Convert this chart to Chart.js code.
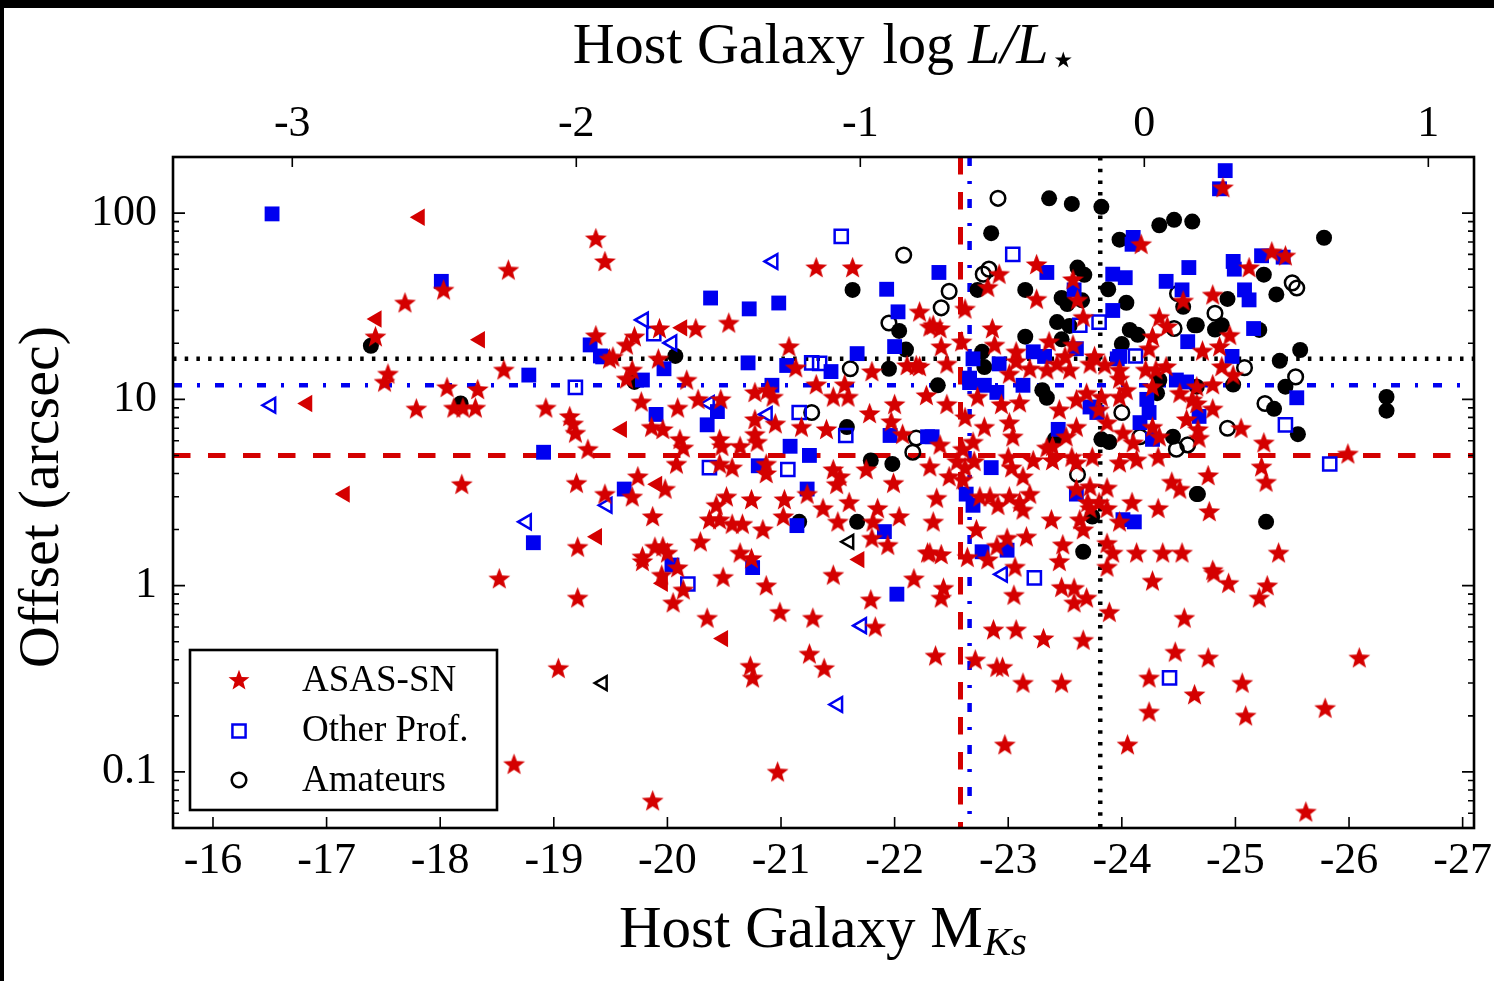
<!DOCTYPE html>
<html><head><meta charset="utf-8">
<script src="https://cdn.jsdelivr.net/npm/chart.js@4.4.1/dist/chart.umd.min.js"></script>
<style>html,body{margin:0;padding:0;background:#fff;overflow:hidden}
#wrap{position:absolute;left:0;top:0;width:1494px;height:981px}</style>
</head><body><div id="wrap"><canvas id="c"></canvas></div>
<script>
// ---------- data: [host M_Ks, offset in arcsec] ----------
const asasStars = [
[-19.37,73],[-19.45,55],[-18.60,49.5],[-18.03,38.7],[-17.69,33],[-17.43,21.7],[-19.37,22],[-19.49,16.5],[-17.54,13.7],[-17.51,12.4],[-18.56,14.4],[-18.06,11.6],[-18.33,11.3],[-17.79,8.9],[-18.12,9.0],[-18.20,9.0],[-18.31,9.0],[-18.93,9.0],[-19.14,8.1],[-19.17,7.4],[-19.19,6.6],[-19.30,5.4],[-18.19,3.5],[-19.20,3.55],[-19.45,3.1],[-19.21,1.61],[-18.52,1.09],[-19.21,0.86],[-19.04,0.36],[-18.65,0.11],
[-21.31,51],[-21.63,51],[-20.54,25.7],[-19.93,24],[-20.25,24],[-19.71,21.7],[-19.64,19.6],[-19.52,16.9],[-19.92,16.5],[-19.69,14.4],[-19.64,12.9],[-21.07,19.2],[-21.13,14.8],[-21.80,14.1],[-22.11,15.2],[-22.19,15.2],[-20.17,12.7],[-19.77,9.7],[-20.09,9.0],[-20.27,10],[-20.47,10],[-20.77,10.9],[-20.88,11.2],[-20.93,10.3],[-21.31,12],[-21.56,12],[-21.46,10.3],[-21.59,10.3],[-19.86,7.1],[-19.96,6.9],[-20.11,6.1],[-20.14,5.5],[-20.77,7.8],[-20.77,6.5],[-20.95,7.4],[-21.18,7.1],[-21.40,6.9],[-21.78,8.4],[-22.0,9.4],[-21.97,7.6],[-22.07,6.5],[-20.46,6.1],[-20.48,5.6],[-20.64,5.6],[-20.79,5.9],[-20.08,4.5],[-20.46,4.5],[-20.57,4.3],[-20.87,4.5],[-20.87,4.0],[-21.46,4.2],[-21.52,3.85],[-21.49,3.5],[-21.75,4.2],[-21.99,3.55],[-19.74,3.85],[-19.98,3.3],
[-19.69,3.0],[-19.87,2.35],[-19.78,1.43],[-19.78,1.35],[-19.89,1.61],[-19.96,1.62],[-20.0,1.5],[-19.95,1.14],[-20.09,1.25],[-20.14,0.95],[-20.05,0.81],[-20.29,1.72],[-20.35,0.67],[-20.37,2.26],[-20.46,2.26],[-20.57,2.14],[-20.66,2.14],[-20.43,2.7],[-20.52,3.0],[-20.74,2.9],[-20.84,2.0],[-20.64,1.5],[-20.74,1.4],[-20.49,1.11],[-20.87,1.0],[-20.99,0.72],[-21.03,2.9],[-21.02,2.35],[-21.23,3.1],[-21.37,2.6],[-21.50,2.2],[-21.60,2.8],[-21.85,2.6],[-21.81,2.2],[-21.80,1.8],[-21.94,1.65],[-22.04,2.35],[-21.46,1.14],[-21.79,0.84],[-22.17,1.09],[-21.83,0.6],[-21.28,0.67],[-21.25,0.43],[-21.38,0.36],[-20.73,0.37],[-20.75,0.32],[-20.97,0.1],[-19.87,0.07],[-22.29,1.5],
[-24.17,68],[-23.25,53],[-22.92,47],[-22.82,40],[-22.22,29.5],[-22.34,25],[-22.40,24],[-22.62,30.6],[-22.86,24],[-23.25,34.5],[-23.57,44],[-23.61,34.2],[-23.66,27.6],[-24.54,33.8],[-24.33,27.6],[-24.40,24.6],[-24.27,21.7],[-24.24,18.7],[-23.36,20.4],[-23.57,19.6],[-23.50,17.0],[-23.43,15.5],[-23.07,18],[-23.07,16],[-23.19,14.6],[-22.88,19.6],[-22.59,20.4],[-22.31,24.5],[-22.41,19.2],[-22.46,15.5],[-22.22,15],[-23.01,13.7],[-23.34,14.4],[-23.54,14.4],[-23.72,15.5],[-23.76,17],[-23.85,15.3],[-23.98,14.4],[-24.21,14.4],[-24.30,14.4],[-24.39,15],[-23.98,12.9],
[-22.73,10.3],[-22.94,9.4],[-23.10,9.6],[-22.46,9.4],[-22.28,10.5],[-22.62,8.0],[-22.79,7.1],[-23.01,7.5],[-23.04,6.3],[-22.40,5.7],[-22.60,5.4],[-22.69,5.9],[-22.55,4.65],[-22.62,4.3],[-22.70,4.65],[-23.0,4.9],[-23.03,4.3],[-23.13,3.85],[-23.22,4.7],[-23.39,4.7],[-23.34,5.5],[-22.31,4.35],[-22.48,3.85],[-22.60,3.7],[-22.37,2.95],[-22.75,3.0],[-22.84,3.0],[-22.91,2.7],[-23.01,3.0],[-23.10,2.8],[-23.19,3.1],[-23.13,2.55],[-22.34,2.2],[-22.72,2.0],[-22.31,1.5],[-22.41,1.47],[-22.64,1.42],[-22.82,1.38],[-22.99,1.80],[-22.90,1.63],[-23.16,1.83],[-23.06,1.26],[-23.38,2.26],[-23.48,1.66],[-23.45,1.35],[-23.60,3.3],[-23.72,3.4],[-23.87,3.35],[-23.70,2.8],[-23.80,2.8],[-23.87,2.6],[-23.63,2.26],[-23.66,2.0],[-23.72,2.6],[-23.87,1.69],[-23.92,1.5],[-23.87,1.26],[-23.98,2.2],[-24.09,2.8],[-24.32,2.6],[-24.44,3.6],[-24.51,3.3],[-24.13,1.5],[-24.36,1.5],[-24.53,1.5],
[-23.45,8.8],[-23.60,9.95],[-23.69,10.8],[-23.82,10.3],[-23.98,10.3],[-24.04,11.2],[-24.27,11.7],[-24.51,10.8],[-24.62,9.95],[-24.57,7.8],[-24.27,7.1],[-24.33,6.3],[-24.10,5.85],[-24.01,6.6],[-23.60,7.1],[-23.51,6.3],[-23.39,5.6],[-23.56,4.9],[-23.60,4.57],[-23.74,4.9],[-23.98,4.57],[-24.13,4.74],[-24.32,4.9],[-23.87,7.5],[-23.80,8.8],
[-24.89,137],[-25.32,62],[-25.44,59],[-25.12,51],[-24.80,36.4],[-24.95,22.1],[-24.71,18.2],[-24.86,19.2],[-24.88,15],[-24.98,13.5],[-24.80,12],[-24.66,11.7],[-25.05,7.0],[-24.67,6.9],[-24.68,6.2],[-24.80,8.9],[-24.66,9.5],[-25.25,5.85],[-25.23,4.35],[-25.27,3.6],[-24.76,3.9],[-24.77,2.5],[-25.38,1.5],[-24.80,1.21],[-25.99,5.1],
[-22.43,0.97],[-22.41,0.86],[-23.05,0.89],[-23.47,0.98],[-23.58,0.97],[-23.58,0.81],[-23.69,0.86],[-23.89,0.72],[-24.27,1.06],[-24.81,1.17],[-24.94,1.03],[-25.28,1.0],[-25.21,0.86],[-24.55,0.67],[-22.87,0.58],[-23.07,0.58],[-23.31,0.52],[-23.66,0.51],[-22.36,0.42],[-22.71,0.40],[-22.90,0.365],[-22.95,0.365],[-23.13,0.30],[-23.47,0.30],[-24.47,0.44],[-24.76,0.41],[-24.24,0.32],[-24.64,0.26],[-25.06,0.30],[-24.24,0.21],[-25.09,0.20],[-25.79,0.22],[-26.09,0.41],[-22.97,0.14],[-24.05,0.14],[-25.62,0.061]
];
const asasLimits = [[-17.82,95],[-17.44,27],[-18.35,20.9],[-16.83,9.5],[-17.16,3.1],[-19.38,1.83],[-20.13,24.2],[-19.60,6.9],[-19.91,3.5],[-19.96,1.03],[-20.49,0.52],[-21.69,1.38]];
const profFilled = [
[-16.52,99],[-18.01,43],[-19.32,19.6],[-19.41,17.1],[-18.78,13.5],[-18.91,5.2],[-18.82,1.70],[-21.93,39],[-20.38,35],[-20.72,30.6],[-20.98,32.9],[-22.03,29.5],[-19.97,14.6],[-19.43,16.9],[-19.78,12.7],[-20.71,15.7],[-21.05,15.2],[-21.44,14.1],[-21.67,17.6],[-22.0,19.2],[-20.92,11.9],[-20.44,8.6],[-20.35,7.3],[-19.90,8.3],[-21.96,6.4],[-22.29,6.3],[-21.08,5.6],[-21.25,5.0],[-20.80,4.4],[-21.23,3.3],[-19.62,3.3],[-20.04,1.29],[-20.75,1.25],[-21.14,2.1],[-21.91,1.95],[-22.02,0.9],
[-24.10,74],[-24.09,68],[-23.34,48],[-22.39,48],[-23.58,38.7],[-23.92,47],[-24.03,45],[-23.92,30],[-24.39,43],[-24.59,51],[-24.53,38.7],[-24.58,20.4],[-23.98,17],[-23.60,18.7],[-23.22,18.0],[-23.32,17.0],[-22.69,16.5],[-22.92,15.5],[-24.48,12.7],[-24.57,12.4],[-22.66,13],
[-22.66,12.3],[-22.79,11.9],[-22.90,10.9],[-23.13,11.9],[-22.33,6.3],[-22.85,4.3],[-22.63,3.1],[-22.69,2.7],[-22.77,1.52],[-22.99,1.55],[-23.60,3.1],[-24.01,2.26],[-24.11,2.2],[-23.72,9.1],[-23.78,8.5],[-24.22,10],[-24.24,8.5],[-24.16,7.5],[-24.27,6.1],[-23.44,6.9],[-23.96,16.5],
[-24.91,169],[-24.86,135],[-25.23,59],[-25.42,58],[-24.98,55],[-24.99,50],[-25.08,38.7],[-25.12,34.2],[-25.16,24],[-24.97,17],[-25.54,10.2],[-24.68,8.1]
];
const profOpen = [[-19.19,11.6],[-21.53,75],[-19.88,22.5],[-21.27,15.7],[-21.34,15.6],[-21.16,8.5],[-21.57,6.4],[-20.37,4.3],[-21.06,4.2],[-20.18,1.02],[-23.04,60],[-23.63,25],[-23.80,26],[-24.12,17.1],[-23.23,1.1],[-24.42,0.32],[-25.44,7.3],[-25.83,4.5]];
const profLimits = [[-16.51,9.3],[-18.76,2.2],[-20.93,55],[-19.79,26.7],[-20.04,20.1],[-20.37,9.5],[-20.88,8.3],[-19.47,2.7],[-21.71,0.61],[-21.50,0.23],[-22.95,1.15]];
const amFilled = [
[-17.39,19.4],[-18.18,9.5],[-21.63,38.7],[-22.04,23.3],[-20.07,17.1],[-21.95,14.6],[-22.10,18.5],[-21.58,7.1],[-21.79,4.7],[-21.98,4.5],[-21.16,2.2],[-21.67,2.2],[-19.71,12.4],
[-23.36,120],[-23.56,112],[-23.82,108],[-22.85,78],[-24.33,86],[-24.46,92],[-24.62,90],[-23.98,72],[-22.73,38.7],[-23.15,38.7],[-23.61,51],[-23.67,46.6],[-23.47,35],[-23.52,32.5],[-23.65,34],[-23.43,26],[-23.54,24.8],[-23.88,39],[-24.04,33],[-24.54,31.4],[-24.64,25],[-24.07,23.6],[-24.14,22.2],[-24.0,19.8],[-23.15,21.7],[-23.47,21],[-22.77,18],[-22.79,14.9],[-24.33,12.7],[-22.38,11.9],
[-23.30,11.2],[-23.34,10.2],[-23.82,6.1],[-23.89,5.9],[-24.31,10.8],[-24.45,6.3],[-24.66,11.7],[-23.41,6.1],[-24.66,3.1],[-23.74,2.35],[-23.66,1.52],
[-25.78,73.7],[-25.25,46.7],[-25.36,36.6],[-24.93,34.6],[-24.66,25],[-24.88,25],[-24.82,23.7],[-25.21,23.6],[-25.57,18.4],[-25.39,16.1],[-24.98,12],[-25.44,11.7],[-26.33,10.3],[-26.33,8.7],[-25.34,8.9],[-25.55,6.5],[-24.67,3.1],[-25.27,2.2]
];
const amOpen = [[-22.08,59.5],[-21.95,25.7],[-21.61,14.6],[-21.27,8.5],[-22.19,6.2],[-22.16,5.2],[-22.91,120],[-22.83,50],[-22.78,47],[-22.48,38],[-22.41,31],[-24.49,37],[-24.46,24],[-23.61,3.95],[-24.0,8.5],[-24.16,6.3],[-24.48,5.4],[-24.58,5.7],[-25.50,42.2],[-25.54,39.6],[-24.82,29],[-25.08,14.8],[-25.53,13.2],[-25.26,9.5],[-24.93,7.0]];
const amLimits = [[-19.43,0.30],[-21.60,1.72]];

// median offsets / host magnitudes (ASAS-SN, Other Prof., Amateurs)
const medianOffsets = [5.0, 11.9, 16.5];
const medianMags = [-22.58, -22.66, -23.81];

// axes
const magTicks = [-16,-17,-18,-19,-20,-21,-22,-23,-24,-25,-26,-27];
const lumTicks = [-3,-2,-1,0,1];
const offsetTicks = [0.1,1,10,100];
const offsetTickLabels = ['0.1','1','10','100'];
const legendLabels = ['ASAS-SN','Other Prof.','Amateurs'];

const X_MIN=-27.10, X_MAX=-15.648, Y_MIN=0.05, Y_MAX=200, MSTAR=-24.198;
const RED='#d40000', BLUE='#0000f0', BLACK='#000000';
const SERIF='"Liberation Serif","Times New Roman",serif';

function makeStar(R, color){
  const s=Math.ceil(2*R+2), c=document.createElement('canvas');
  c.width=s; c.height=s;
  const g=c.getContext('2d'); g.fillStyle=color; g.beginPath();
  const cx=s/2, cy=s/2+R*0.06, r=R*0.42;
  for(let i=0;i<10;i++){const a=-Math.PI/2+i*Math.PI/5, rr=(i%2)?r:R; g.lineTo(cx+rr*Math.cos(a), cy+rr*Math.sin(a));}
  g.closePath(); g.fill(); return c;
}
const starImg = makeStar(11.5, RED);
const starLegend = makeStar(11, RED);
const pts = a => a.map(p=>({x:p[0], y:p[1]}));

const lineStyles = [
  {color:RED, dash:[17.5,17.5], w:5},
  {color:BLUE, dash:[9,15,3,15], w:4.5},
  {color:BLACK, dash:[3.5,8.2], w:4.5}
];
const lineSets = [];
medianOffsets.forEach((v,i)=>lineSets.push({data:[{x:X_MAX,y:v},{x:X_MIN,y:v}], showLine:true, pointRadius:0, borderColor:lineStyles[i].color, borderWidth:lineStyles[i].w, borderDash:lineStyles[i].dash, order:100, clip:0}));
medianMags.forEach((v,i)=>lineSets.push({data:[{x:v,y:Y_MAX},{x:v,y:Y_MIN}], showLine:true, pointRadius:0, borderColor:lineStyles[i].color, borderWidth:lineStyles[i].w, borderDash:lineStyles[i].dash, order:100, clip:0}));

const pointSets = [
  {data:pts(amFilled), pointStyle:'circle', pointRadius:8, backgroundColor:BLACK, borderColor:BLACK, borderWidth:0, order:30},
  {data:pts(amOpen), pointStyle:'circle', pointRadius:7.3, backgroundColor:'rgba(0,0,0,0)', borderColor:BLACK, borderWidth:2.5, order:30},
  {data:pts(amLimits), pointStyle:'triangle', pointRotation:-90, pointRadius:8, backgroundColor:'rgba(0,0,0,0)', borderColor:BLACK, borderWidth:2.5, order:30},
  {data:pts(profFilled), pointStyle:'rect', pointRadius:10.5, backgroundColor:BLUE, borderColor:BLUE, borderWidth:0, order:20},
  {data:pts(profOpen), pointStyle:'rect', pointRadius:9.3, backgroundColor:'rgba(0,0,0,0)', borderColor:BLUE, borderWidth:2.5, order:20},
  {data:pts(profLimits), pointStyle:'triangle', pointRotation:-90, pointRadius:8.5, backgroundColor:'rgba(0,0,0,0)', borderColor:BLUE, borderWidth:2.5, order:20},
  {data:pts(asasLimits), pointStyle:'triangle', pointRotation:-90, pointRadius:10, backgroundColor:RED, borderColor:RED, borderWidth:0, order:10},
  {data:pts(asasStars), pointStyle:starImg, pointRadius:11, backgroundColor:RED, borderColor:RED, borderWidth:0, order:10}
];

const bgPlugin = {id:'bg', beforeDraw(chart){
  const c=chart.ctx; c.save(); c.fillStyle='#fff'; c.fillRect(0,0,chart.width,chart.height);
  c.fillStyle='#000'; c.fillRect(0,0,chart.width,8); c.fillRect(0,0,4,chart.height); c.restore();
}};

const framePlugin = {id:'frame', afterDatasetsDraw(chart){
  const c=chart.ctx, a=chart.chartArea, sx=chart.scales.x, sx2=chart.scales.x2, sy=chart.scales.y;
  c.save(); c.strokeStyle='#000'; c.lineWidth=1.6; c.beginPath();
  magTicks.forEach(v=>{const p=sx.getPixelForValue(v); c.moveTo(p,a.bottom); c.lineTo(p,a.bottom-11);});
  lumTicks.forEach(v=>{const p=sx2.getPixelForValue(v); c.moveTo(p,a.top); c.lineTo(p,a.top+10);});
  for(let e=-2;e<=2;e++) for(let m=1;m<=9;m++){
    const v=m*Math.pow(10,e); if(v<Y_MIN*0.999||v>Y_MAX*1.001) continue;
    const p=sy.getPixelForValue(v), L=(m===1)?12:6;
    c.moveTo(a.left,p); c.lineTo(a.left+L,p); c.moveTo(a.right,p); c.lineTo(a.right-L,p);
  }
  c.stroke();
  c.lineWidth=2.6; c.strokeRect(a.left,a.top,a.right-a.left,a.bottom-a.top);
  c.restore();
}};

function drawPieces(c, pieces, cx, baseY){
  let total=0; pieces.forEach(p=>{c.font=p.font; p.w=c.measureText(p.t).width; total+=p.w+(p.gap||0);});
  let x=cx-total/2;
  pieces.forEach(p=>{c.font=p.font; c.fillText(p.t, x, baseY+(p.dy||0)); x+=p.w+(p.gap||0);});
}

const textPlugin = {id:'texts', afterDraw(chart){
  const c=chart.ctx; c.save(); c.fillStyle='#000'; c.textBaseline='alphabetic'; c.textAlign='left';
  drawPieces(c,[
    {t:'Host Galaxy', font:'58px '+SERIF, gap:18},
    {t:'log', font:'56px '+SERIF, gap:14},
    {t:'L/L', font:'italic 58px '+SERIF, gap:1},
    {t:'\u22c6', font:'44px "DejaVu Sans"', dy:11}
  ], 825, 63);
  drawPieces(c,[
    {t:'Host Galaxy M', font:'59px '+SERIF, gap:1},
    {t:'Ks', font:'italic 41px '+SERIF, dy:8}
  ], 823, 947);
  c.save(); c.translate(58,497); c.rotate(-Math.PI/2); c.textAlign='center'; c.font='58px '+SERIF;
  c.fillText('Offset (arcsec)',0,0); c.restore();
  // legend
  const H=Chart.helpers;
  c.fillStyle='#fff'; c.fillRect(190,650,307,160);
  c.strokeStyle='#000'; c.lineWidth=2.6; c.strokeRect(190,650,307,160);
  H.drawPoint(c,{pointStyle:starLegend, radius:11, rotation:0, borderWidth:0},239,680);
  c.fillStyle='rgba(0,0,0,0)'; c.strokeStyle=BLUE; c.lineWidth=2.5;
  H.drawPoint(c,{pointStyle:'rect', radius:9.3, rotation:0, borderWidth:2.5},239,731);
  c.strokeStyle=BLACK;
  H.drawPoint(c,{pointStyle:'circle', radius:7.3, rotation:0, borderWidth:2.5},239,780);
  c.fillStyle='#000'; c.font='37px '+SERIF; c.textAlign='left';
  c.fillText(legendLabels[0],302,691); c.fillText(legendLabels[1],302,741); c.fillText(legendLabels[2],302,791);
  c.restore();
}};

const tickFont = {family:SERIF, size:44};
new Chart(document.getElementById('c'), {
  type:'scatter',
  data:{datasets:[...pointSets, ...lineSets]},
  options:{
    responsive:true, maintainAspectRatio:false, animation:false, events:[],
    layout:{padding:{left:0,right:20,top:0,bottom:0}},
    plugins:{legend:{display:false}, tooltip:{enabled:false}},
    scales:{
      x:{type:'linear', position:'bottom', reverse:true, min:X_MIN, max:X_MAX,
         grid:{display:false}, border:{display:false},
         afterBuildTicks:s=>{s.ticks=magTicks.map(v=>({value:v}));},
         afterFit:s=>{s.height=153; s.paddingLeft=0; s.paddingRight=0;},
         ticks:{autoSkip:false, maxRotation:0, minRotation:0, padding:-1, color:'#000', font:tickFont, callback:v=>String(v)}},
      x2:{type:'linear', position:'top', min:-0.4*(X_MAX-MSTAR), max:-0.4*(X_MIN-MSTAR),
         grid:{display:false}, border:{display:false},
         afterBuildTicks:s=>{s.ticks=lumTicks.map(v=>({value:v}));},
         afterFit:s=>{s.height=157; s.paddingLeft=0; s.paddingRight=0;},
         ticks:{autoSkip:false, maxRotation:0, minRotation:0, padding:-2, color:'#000', font:tickFont, callback:v=>String(v)}},
      y:{type:'logarithmic', position:'left', min:Y_MIN, max:Y_MAX,
         grid:{display:false}, border:{display:false},
         afterBuildTicks:s=>{s.ticks=offsetTicks.map(v=>({value:v}));},
         afterFit:s=>{s.width=173; s.paddingTop=0; s.paddingBottom=0;},
         ticks:{autoSkip:false, padding:8, color:'#000', font:tickFont, callback:v=>{const i=offsetTicks.indexOf(v); return i>=0?offsetTickLabels[i]:'';}}}
    }
  },
  plugins:[bgPlugin, framePlugin, textPlugin]
});
</script></body></html>
